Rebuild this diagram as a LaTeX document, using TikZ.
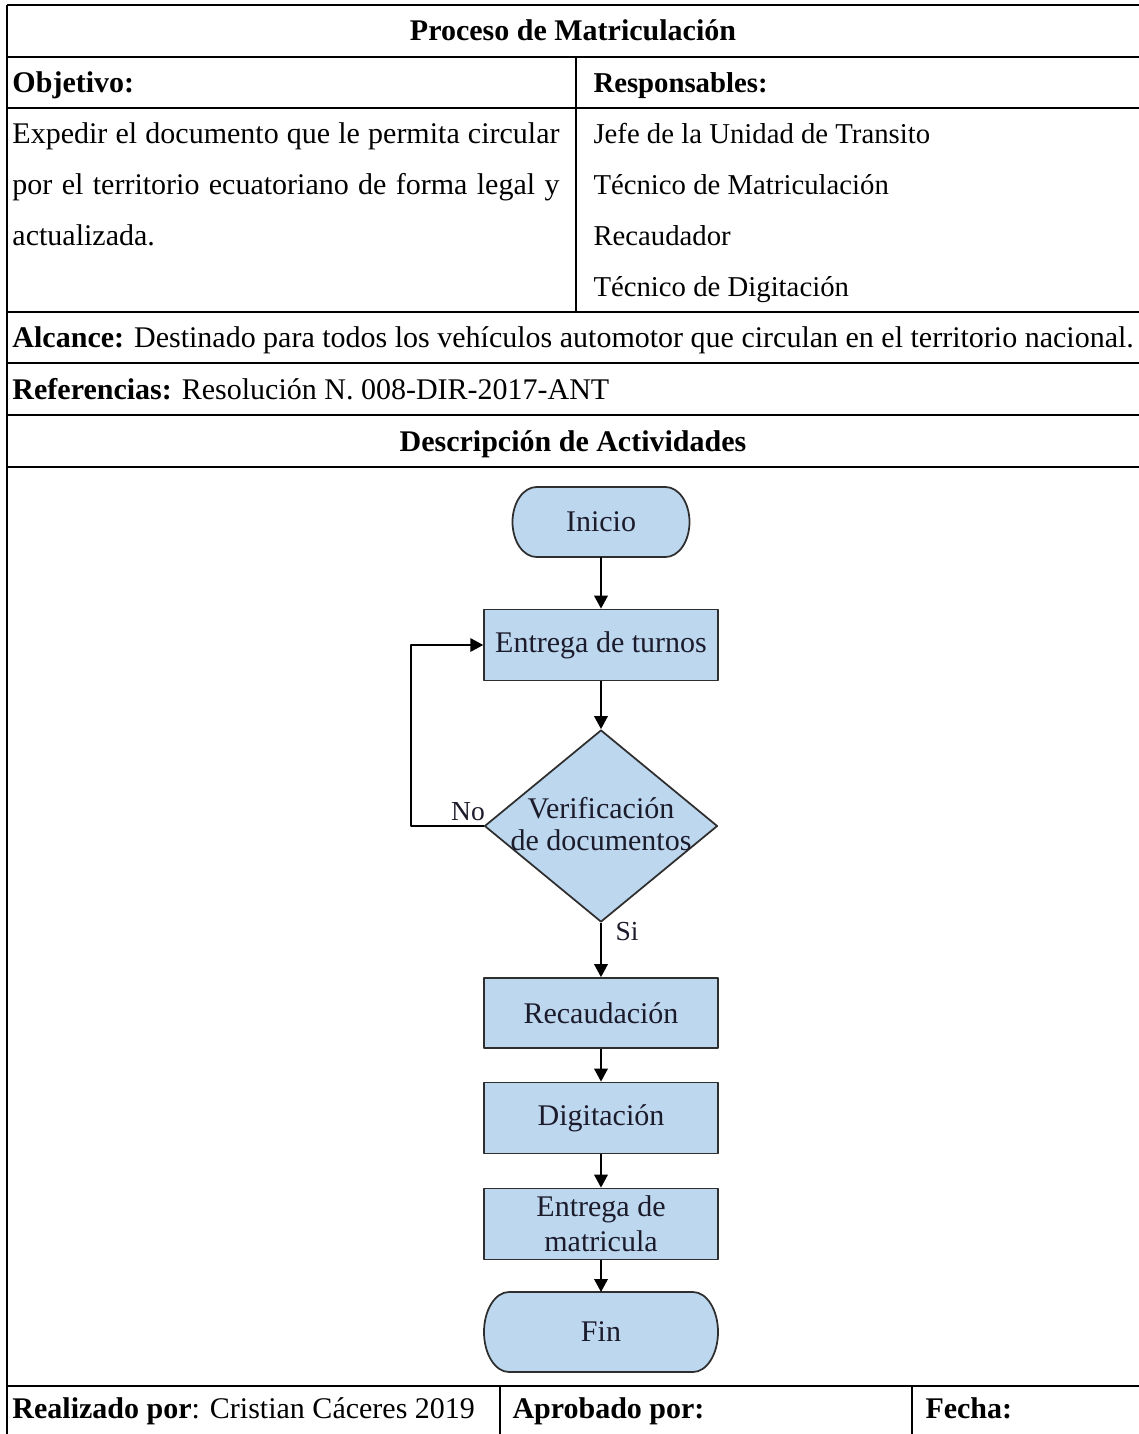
\documentclass[tikz,border=0pt]{standalone}
\usepackage{fontspec}
\setmainfont{Liberation Serif}
\usetikzlibrary{arrows.meta,shapes.geometric,backgrounds}
\definecolor{flowfill}{HTML}{BDD7EE}
\definecolor{flowedge}{HTML}{2E2E2E}
\definecolor{flowtext}{HTML}{1B1B2B}

\begin{document}
\begin{tikzpicture}[
  x=0.4pt,
  y=-0.4pt,
  line join=round,
  grid/.style={draw=black,line width=0.9pt},
  cell/.style={anchor=base west,inner sep=0pt,font=\fontsize{12}{14}\selectfont},
  listcell/.style={cell,font=\fontsize{11.5}{14}\selectfont},
  head/.style={anchor=base,inner sep=0pt,font=\fontsize{12}{14}\selectfont\bfseries},
  process/.style={draw=flowedge,fill=flowfill,line width=0.7pt,minimum width=93.5pt,
    minimum height=28.4pt,inner sep=0pt,text=flowtext,align=center,
    font=\fontsize{12}{14}\selectfont},
  terminal/.style={process,draw=none,fill=none,outer sep=0pt},
  termshape/.style={draw=flowedge,fill=flowfill,line width=0.7pt},
  decision/.style={draw=flowedge,fill=flowfill,line width=0.7pt,diamond,
    minimum width=93.2pt,minimum height=76.8pt,inner sep=0pt},
  flow/.style={draw=black,line width=0.8pt,-{Triangle[length=5.2pt,width=5.4pt]}},
  lbl/.style={inner sep=0pt,text=flowtext,font=\fontsize{11}{13}\selectfont}
]
  \useasboundingbox (0,0) rectangle (1139,1434);

  % Table frame: the sheet is cut on the right and at the bottom.
  \foreach \y in {5,57,108,312,363,415,467,1386} {
    \draw[grid] (7,\y) -- (1139,\y);
  }
  \draw[grid] (7,5) -- (7,1434);
  \draw[grid] (576,57) -- (576,312);
  \draw[grid] (500,1386) -- (500,1434);
  \draw[grid] (912,1386) -- (912,1434);

  % Header rows.
  \node[head] (titulo) at (573,40) {Proceso de Matriculación};
  \node[cell,font=\fontsize{12}{14}\selectfont\bfseries] (objetivo) at (12,92) {Objetivo:};
  \node[listcell,font=\fontsize{11.5}{14}\selectfont\bfseries] (responsables) at (593,92) {Responsables:};

  % Objective text, justified on the first two lines.
  \node[cell] (obj1) at (12,143) {\makebox[218.8pt][s]{Expedir el documento que le permita circular}};
  \node[cell] (obj2) at (12,194) {\makebox[218.8pt][s]{por el territorio ecuatoriano de forma legal y}};
  \node[cell] (obj3) at (12,245) {actualizada.};

  \node[listcell] (resp1) at (593,143) {Jefe de la Unidad de Transito};
  \node[listcell] (resp2) at (593,194) {Técnico de Matriculación};
  \node[listcell] (resp3) at (593,245) {Recaudador};
  \node[listcell] (resp4) at (593,296) {Técnico de Digitación};

  \node[cell] (alcance) at (12,347) {\textbf{Alcance:} Destinado para todos los vehículos automotor que circulan en el territorio nacional.};
  \node[cell] (referencias) at (12,399) {\textbf{Referencias:} Resolución N. 008-DIR-2017-ANT};
  \node[head] (descripcion) at (573,451) {Descripción de Actividades};

  % Flowchart of the activities.
  \node[terminal,minimum width=70.8pt,minimum height=28pt] (inicio) at (601,522) {Inicio};
  \node[process] (turnos) at (601,645) {Entrega de turnos};
  \node[decision] (verif) at (601,826) {};
  \node[lbl,font=\fontsize{12}{13}\selectfont,align=center] (veriftxt) at (601,824) {Verificación\\de documentos};
  \node[process,minimum height=28pt] (recaudacion) at (601,1013) {Recaudación};
  \node[process] (digitacion) at (601,1118) {Digitación};
  \node[process] (matricula) at (601,1224) {Entrega de\\matricula};
  \node[terminal,minimum width=93.6pt,minimum height=32pt] (fin) at (601,1332) {Fin};

  % Terminals get half-elliptic ends, drawn behind their text.
  \begin{scope}[on background layer]
    \draw[termshape] ([xshift=9.6pt]inicio.north west) -- ([xshift=-9.6pt]inicio.north east)
      arc[start angle=90,end angle=-90,x radius=9.6pt,y radius=14pt]
      -- ([xshift=9.6pt]inicio.south west)
      arc[start angle=270,end angle=90,x radius=9.6pt,y radius=14pt] -- cycle;
    \draw[termshape] ([xshift=10pt]fin.north west) -- ([xshift=-10pt]fin.north east)
      arc[start angle=90,end angle=-90,x radius=10pt,y radius=16pt]
      -- ([xshift=10pt]fin.south west)
      arc[start angle=270,end angle=90,x radius=10pt,y radius=16pt] -- cycle;
  \end{scope}

  \draw[flow] (inicio) -- (turnos);
  \draw[flow] (turnos) -- (verif);
  \draw[flow] (verif) -- (recaudacion);
  \draw[flow] (recaudacion) -- (digitacion);
  \draw[flow] (digitacion) -- (matricula);
  \draw[flow] (matricula) -- (fin);
  \draw[flow] (verif.west) -- ++(-73,0) |- (turnos.west);

  \node[lbl] (no) at (468,812) {No};
  \node[lbl] (si) at (627,932) {Si};

  % Signature row.
  \node[cell] (realizado) at (12,1418) {\textbf{Realizado por}: Cristian Cáceres 2019};
  \node[cell,font=\fontsize{12}{14}\selectfont\bfseries] (aprobado) at (512,1418) {Aprobado por:};
  \node[cell,font=\fontsize{12}{14}\selectfont\bfseries] (fecha) at (925,1418) {Fecha:};
\end{tikzpicture}
\end{document}
